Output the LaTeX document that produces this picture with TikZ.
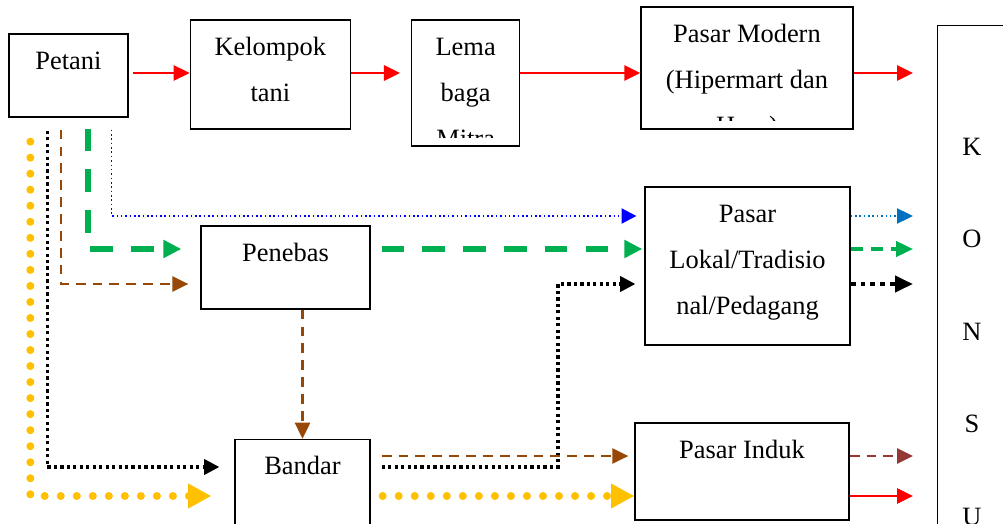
\documentclass[tikz,border=0pt]{standalone}
\usepackage{fontspec}
\setmainfont{Liberation Serif}
\usetikzlibrary{positioning,calc,arrows.meta}
\definecolor{arrred}{HTML}{FF0000}
\definecolor{arrblue}{HTML}{0000FF}
\definecolor{arrsky}{HTML}{0070C0}
\definecolor{arrgreen}{HTML}{00B050}
\definecolor{arrbrown}{HTML}{984806}
\definecolor{arrmaroon}{HTML}{953735}
\definecolor{arrgold}{HTML}{FFC000}
\newcommand{\boxfont}{\fontsize{18.8}{32.7}\selectfont}
\tikzset{box/.style={draw, line width=.9pt, inner sep=0pt},
  txt/.style={path picture={
      \clip ([yshift=.225cm]path picture bounding box.south west) rectangle (path picture bounding box.north east);
      \node[font=\boxfont, align=center, anchor=north, inner sep=0pt,
      minimum width=0pt, minimum height=0pt]
      at ([yshift=-.07cm]path picture bounding box.north) {\strut #1};}},
  redline/.style={draw=arrred, line width=1.5pt, -{Triangle[length=.4cm,width=.38cm]}},
  blueline/.style={draw=arrblue, line width=1.1pt, dash pattern=on 1.1pt off 2pt, -{Triangle[length=.37cm,width=.38cm]}},
  skyline/.style={draw=arrsky, line width=1.1pt, dash pattern=on 1.1pt off 2pt, -{Triangle[length=.4cm,width=.38cm]}},
  greenline/.style={draw=arrgreen, line width=4.3pt, dash pattern=on 16pt off 13pt, -{Triangle[length=.45cm,width=.43cm]}},
  greenthin/.style={draw=arrgreen, line width=2.3pt, dash pattern=on 8.5pt off 6pt, -{Triangle[length=.42cm,width=.38cm]}},
  brownline/.style={draw=arrbrown, line width=1.5pt, dash pattern=on 7pt off 5pt, -{Triangle[length=.4cm,width=.38cm]}},
  maroonline/.style={draw=arrmaroon, line width=1.5pt, dash pattern=on 7pt off 5pt, -{Triangle[length=.4cm,width=.38cm]}},
  blackdots/.style={draw=black, line width=2.2pt, dash pattern=on 2.3pt off 2.3pt, -{Triangle[length=.38cm,width=.38cm]}},
  blackthick/.style={draw=black, line width=3.5pt, dash pattern=on 3.5pt off 3.5pt, -{Triangle[length=.45cm,width=.4cm]}},
  golddots/.style={draw=arrgold, line width=5.7pt, line cap=round, dash pattern=on 0pt off 11.4pt, -{Triangle[length=.58cm,width=.58cm]}},
}

\begin{document}
\begin{tikzpicture}[x=0.025cm, y=-0.025cm]
    \useasboundingbox (0,0) rectangle (1003,524);
    \clip (0,0) rectangle (1003,524);

    % boxes
    \node[box, minimum width=2.975cm, minimum height=2.075cm, txt={Petani}] (petani) at (68.5,75.5) {};
    \node[box, minimum width=4cm, minimum height=2.725cm, txt={Kelompok\\tani}] (kelompok) [right=1.525cm of petani, yshift=.025cm] {};
    \node[box, minimum width=2.7cm, minimum height=3.15cm, txt={Lema\\baga\\Mitra}] (lembaga) [right=1.5cm of kelompok, yshift=-.2125cm] {};
    \node[box, minimum width=5.3cm, minimum height=3.05cm, txt={Pasar Modern\\(Hipermart dan\\Hero)}] (modern) [right=3cm of lembaga, yshift=.375cm] {};
    \node[box, minimum width=2cm, minimum height=13.5cm, anchor=north west] (konsumen) at (937,25) {};
    \node[font=\fontsize{18.8}{65.8}\selectfont, align=center, anchor=north, inner sep=0pt] (huruf) at (972,90) {\strut K\\O\\N\\S\\U};
    \node[box, minimum width=4.225cm, minimum height=2.075cm, txt={Penebas}] (penebas) at (285.5,267.5) {};
    \node[box, minimum width=5.125cm, minimum height=3.95cm, txt={Pasar\\Lokal/Tradisio\\nal/Pedagang}] (lokal) at (747.5,266) {};
    \node[box, minimum width=3.375cm, minimum height=2.75cm, txt={Bandar}] (bandar) [below=3.225cm of penebas, xshift=.425cm] {};
    \node[box, minimum width=5.35cm, minimum height=2.425cm, txt={Pasar Induk}] (induk) at (742,471.5) {};

    % rows of the arrows
    \coordinate (r1) at (0,73);
    \coordinate (r2) at (0,216);
    \coordinate (r3) at (0,249);
    \coordinate (r4) at (0,284);
    \coordinate (r5) at (0,456);
    \coordinate (r6) at (0,467);
    \coordinate (r7) at (0,496);
    \coordinate (bend) at (558,284);

    % top row
    \draw[redline, shorten <=.1cm] (petani.east |- r1) -- (kelompok.west |- r1);
    \draw[redline, shorten >=.275cm] (kelompok.east |- r1) -- (lembaga.west |- r1);
    \draw[redline] (lembaga.east |- r1) -- (modern.west |- r1);
    \draw[redline, shorten >=.6cm] (modern.east |- r1) -- (konsumen.west |- r1);

    % from petani
    \draw[golddots, shorten >=.575cm] ($(petani.south west)+(22,24)$) |- (bandar.west |- r7);
    \draw[blackdots, shorten >=.375cm] ($(petani.south west)+(39,13)$) |- (bandar.west |- r6);
    \draw[brownline, shorten >=.3cm] ($(petani.south west)+(53,12)$) |- (penebas.west |- r4);
    \draw[greenline, shorten >=.475cm] ($(petani.south west)+(80,11)$) |- (penebas.west |- r3);
    \draw[blueline, shorten >=.2cm] ($(petani.south west)+(103,12)$) |- (lokal.west |- r2);

    % penebas and bandar
    \draw[greenline, shorten <=.275cm, shorten >=.05cm] (penebas.east |- r3) -- (lokal.west |- r3);
    \draw[brownline] (bandar.north |- penebas.south) -- (bandar.north);
    \draw[blackdots, shorten <=.275cm, shorten >=.225cm] (bandar.east |- r6) -| (bend) -- (lokal.west |- bend);
    \draw[brownline, shorten <=.275cm, shorten >=.15cm] (bandar.east |- r5) -- (induk.west |- r5);
    \draw[golddots, shorten <=.3cm] (bandar.east |- r7) -- (induk.west |- r7);

    % to konsumen
    \draw[skyline, shorten >=.6cm] (lokal.east |- r2) -- (konsumen.west |- r2);
    \draw[greenthin, shorten >=.6cm] (lokal.east |- r3) -- (konsumen.west |- r3);
    \draw[blackthick, shorten >=.6cm] (lokal.east |- r4) -- (konsumen.west |- r4);
    \draw[maroonline, shorten >=.6cm] (induk.east |- r5) -- (konsumen.west |- r5);
    \draw[redline, shorten >=.6cm] (induk.east |- r7) -- (konsumen.west |- r7);
\end{tikzpicture}
\end{document}
